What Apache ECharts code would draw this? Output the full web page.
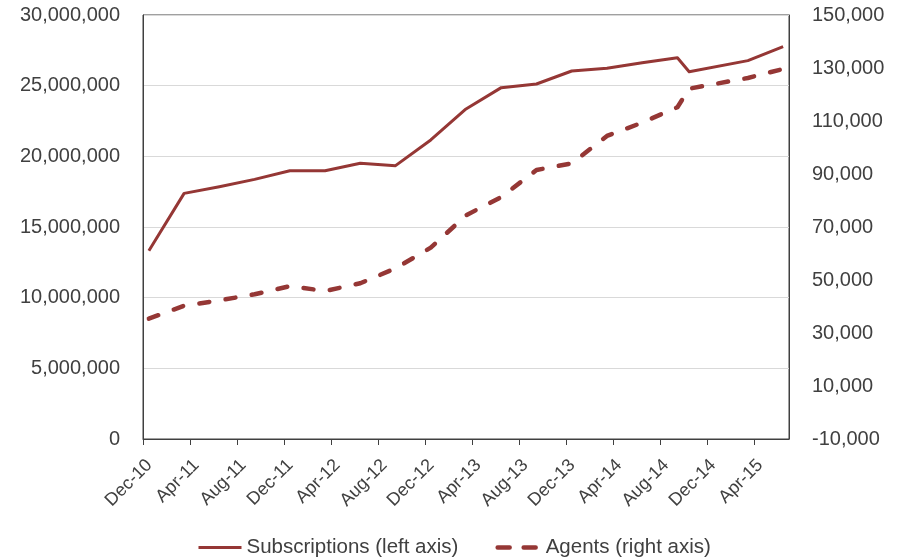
<!DOCTYPE html>
<html>
<head>
<meta charset="utf-8">
<script src="https://cdn.jsdelivr.net/npm/echarts@6/dist/echarts.min.js"></script>
<style>
  html, body { margin: 0; padding: 0; background: #ffffff; }
  #chart { width: 898px; height: 558px; }
</style>
</head>
<body>
<div id="chart"></div>
<script>
// Observation months (quarterly, plus an October 2014 reading)
const periods = ['2010-12', '2011-03', '2011-06', '2011-09', '2011-12', '2012-03', '2012-06',
  '2012-09', '2012-12', '2013-03', '2013-06', '2013-09', '2013-12', '2014-03', '2014-06',
  '2014-09', '2014-10', '2015-03', '2015-06'];

// Mobile money subscriptions (left axis)
const subscriptions = [13320000, 17380000, 17850000, 18370000, 18980000, 18980000, 19510000,
  19340000, 21160000, 23350000, 24860000, 25120000, 26040000, 26230000, 26620000,
  26980000, 25990000, 26770000, 27760000];

// Agents (right axis)
const agents = [35400, 40300, 42300, 44600, 47700, 45850, 48760,
  54400, 62200, 74400, 81300, 91500, 94000, 104350, 109400,
  115200, 122200, 126240, 129640];

// Date axis labels, every four months from Dec-10
const xTickLabels = ['Dec-10', 'Apr-11', 'Aug-11', 'Dec-11', 'Apr-12', 'Aug-12', 'Dec-12',
  'Apr-13', 'Aug-13', 'Dec-13', 'Apr-14', 'Aug-14', 'Dec-14', 'Apr-15'];
const rightTicks = [-10000, 10000, 30000, 50000, 70000, 90000, 110000, 130000, 150000];

const seriesNames = ['Subscriptions (left axis)', 'Agents (right axis)'];

// The date axis counts months from the start of December 2010;
// each reading sits in the middle of its month.
const START_YEAR = 2010, START_MONTH = 12;
function monthPos(p) {
  const [y, m] = p.split('-').map(Number);
  return (y - START_YEAR) * 12 + (m - START_MONTH) + 0.5;
}
const xTickPos = xTickLabels.map((_, i) => i * 4);

const FONT = 'Liberation Sans';
const TEXT = '#404040';
const AXIS = '#404040';
const RED = '#953735';
const fmt = v => Number(v).toLocaleString('en-US');

const solidStyle = { color: RED, width: 3, join: 'round' };
const dashedStyle = { color: RED, width: 4.5, type: [10, 16.5], cap: 'round', join: 'round' };

const chart = echarts.init(document.getElementById('chart'), null, { renderer: 'canvas' });
chart.setOption({
  animation: false,
  backgroundColor: '#ffffff',
  textStyle: { fontFamily: FONT },
  grid: {
    left: 143, right: 109, top: 15, bottom: 119,
    show: true, borderColor: AXIS, borderWidth: 1, backgroundColor: 'transparent'
  },
  legend: {
    data: [
      { name: seriesNames[0], lineStyle: { color: RED, width: 3 } },
      { name: seriesNames[1], lineStyle: { color: RED, width: 4.5, type: [12, 14], cap: 'round' } }
    ],
    left: 197, top: 537, padding: 0,
    itemWidth: 43, itemHeight: 14, itemGap: 37,
    itemStyle: { opacity: 0 },
    textStyle: { fontFamily: FONT, fontSize: 20.5, color: TEXT }
  },
  xAxis: {
    type: 'value',
    min: 0, max: 55, interval: 4,
    axisLine: { show: true, lineStyle: { color: AXIS, width: 1 } },
    axisTick: { show: true, customValues: xTickPos, length: 6, lineStyle: { color: AXIS } },
    axisLabel: {
      customValues: xTickPos,
      rotate: 45, margin: 17, verticalAlign: 'top',
      fontFamily: FONT, fontSize: 18, color: TEXT,
      formatter: v => xTickLabels[Math.round(v / 4)] || ''
    },
    splitLine: { show: false }
  },
  yAxis: [
    {
      type: 'value', position: 'left',
      min: 0, max: 30000000, interval: 5000000,
      axisLine: { show: true, lineStyle: { color: AXIS } },
      axisTick: { show: false },
      axisLabel: { margin: 23, fontFamily: FONT, fontSize: 20, color: TEXT, formatter: fmt },
      splitLine: { show: true, lineStyle: { color: '#d9d9d9', width: 1 } }
    },
    {
      type: 'value', position: 'right',
      min: -10000, max: 150000, interval: 20000,
      axisLine: { show: true, lineStyle: { color: AXIS } },
      axisTick: { show: false },
      axisLabel: {
        customValues: rightTicks,
        margin: 23, fontFamily: FONT, fontSize: 20, color: TEXT, formatter: fmt
      },
      splitLine: { show: false }
    }
  ],
  series: [
    {
      name: seriesNames[0],
      type: 'line', yAxisIndex: 0,
      symbol: 'none',
      color: RED,
      lineStyle: solidStyle,
      data: periods.map((p, i) => [monthPos(p), subscriptions[i]])
    },
    {
      name: seriesNames[1],
      type: 'line', yAxisIndex: 1,
      symbol: 'none',
      color: RED,
      lineStyle: dashedStyle,
      data: periods.map((p, i) => [monthPos(p), agents[i]])
    }
  ]
});
</script>
</body>
</html>
